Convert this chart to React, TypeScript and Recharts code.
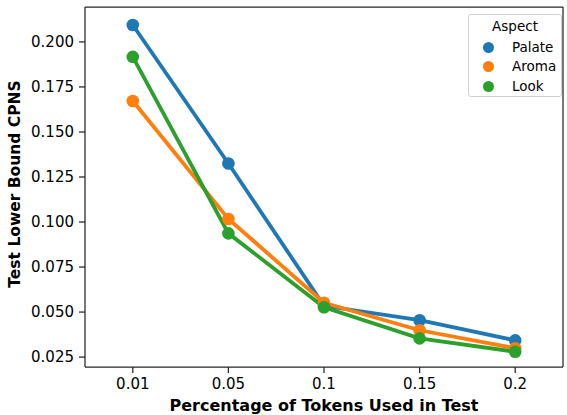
import React from "react";
import { LineChart, Line, XAxis, YAxis } from "recharts";

const categories = ["0.01", "0.05", "0.1", "0.15", "0.2"];
const palate = [0.2094, 0.1325, 0.0535, 0.0455, 0.0343];
const aroma = [0.1672, 0.1017, 0.0552, 0.0399, 0.0299];
const look = [0.1917, 0.0937, 0.0527, 0.0354, 0.028];
const yTicks = [0.025, 0.05, 0.075, 0.1, 0.125, 0.15, 0.175, 0.2];

const series = [
  { key: "Palate", color: "#1f77b4" },
  { key: "Aroma", color: "#ff7f0e" },
  { key: "Look", color: "#2ca02c" },
];

const data = categories.map((c, i) => ({
  x: c,
  Palate: palate[i],
  Aroma: aroma[i],
  Look: look[i],
}));

const FONT = "'DejaVu Sans', sans-serif";
const INK = "#262626";

const YLabel = (props: any) => {
  const vb = props.viewBox || { x: 0, y: 0, width: 0, height: 0 };
  const cx = vb.x + 15;
  const cy = vb.y + vb.height / 2 - 3;
  return (
    <text
      x={cx}
      y={cy}
      transform={`rotate(-90, ${cx}, ${cy})`}
      textAnchor="middle"
      dominantBaseline="central"
      fontFamily={FONT}
      fontSize={15.5}
      fontWeight="bold"
      fill="#000"
    >
      Test Lower Bound CPNS
    </text>
  );
};

export default function App() {
  return (
    <div style={{ position: "absolute", left: 0, top: 0, width: 567, height: 415, background: "#fff" }}>
      <LineChart
        width={567}
        height={415}
        data={data}
        margin={{ top: 6, right: 3, bottom: 0, left: 0 }}
      >
        <XAxis
          dataKey="x"
          scale="band"
          height={48}
          tickSize={6}
          tickMargin={5}
          stroke={INK}
          axisLine={{ stroke: INK, strokeWidth: 1.25 }}
          tickLine={{ stroke: INK, strokeWidth: 1.25 }}
          tick={{ fill: "#000", fontSize: 15, fontFamily: FONT }}
          label={{
            value: "Percentage of Tokens Used in Test",
            position: "insideBottom",
            offset: 4,
            style: { fontFamily: FONT, fontSize: 16, fontWeight: "bold", fill: "#000" },
          }}
        />
        <XAxis
          xAxisId="top"
          dataKey="x"
          scale="band"
          orientation="top"
          height={1}
          tick={false}
          tickLine={false}
          axisLine={{ stroke: INK, strokeWidth: 1.25 }}
        />
        <YAxis
          type="number"
          width={85}
          domain={[0.0195, 0.2194]}
          ticks={yTicks}
          tickSize={6}
          tickMargin={5}
          tickFormatter={(v: number) => v.toFixed(3)}
          axisLine={{ stroke: INK, strokeWidth: 1.25 }}
          tickLine={{ stroke: INK, strokeWidth: 1.25 }}
          tick={{ fill: "#000", fontSize: 15, fontFamily: FONT }}
          allowDataOverflow
          label={{ content: YLabel }}
        />
        <YAxis
          yAxisId="right"
          orientation="right"
          type="number"
          width={1}
          domain={[0.0195, 0.2194]}
          tick={false}
          tickLine={false}
          axisLine={{ stroke: INK, strokeWidth: 1.25 }}
        />
        {series.map((s) => (
          <Line
            key={s.key}
            dataKey={s.key}
            stroke={s.color}
            strokeWidth={3.8}
            dot={{ r: 6.3, fill: s.color, stroke: "none" }}
            activeDot={false}
            isAnimationActive={false}
          />
        ))}
      </LineChart>
      <div
        style={{
          position: "absolute",
          left: 468,
          top: 14,
          width: 92,
          height: 81,
          border: "1px solid #d0d0d0",
          borderRadius: 3,
          background: "rgba(255,255,255,0.8)",
          fontFamily: FONT,
          fontSize: 13.5,
          color: "#000",
        }}
      >
        <div style={{ position: "absolute", top: 3, left: 0, width: 92, textAlign: "center", lineHeight: "16px" }}>
          Aspect
        </div>
        {series.map((s, i) => (
          <div key={s.key} style={{ position: "absolute", top: 24 + i * 19.3, left: 0, height: 16, lineHeight: "16px" }}>
            <span
              style={{
                position: "absolute",
                left: 14,
                top: 3,
                width: 11,
                height: 11,
                borderRadius: "50%",
                background: s.color,
              }}
            />
            <span style={{ position: "absolute", left: 43, top: 0, whiteSpace: "nowrap" }}>{s.key}</span>
          </div>
        ))}
      </div>
    </div>
  );
}
